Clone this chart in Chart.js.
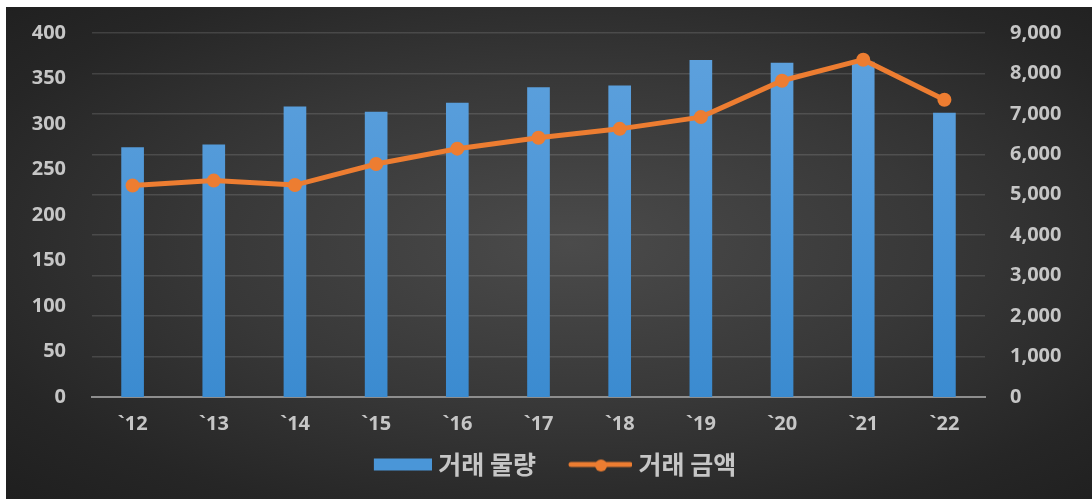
<!DOCTYPE html>
<html lang="ko">
<head>
<meta charset="UTF-8">
<title>거래 물량 / 거래 금액</title>
<script src="https://cdn.jsdelivr.net/npm/chart.js"></script>
<style>
    html, body { margin: 0; padding: 0; background: #fff; }
    .panel {
        position: absolute; left: 6px; top: 7px; width: 1086px; height: 492px;
        background: radial-gradient(ellipse at 52% 48%, #4b4b4b 0%, #383838 45%, #262626 80%, #1f1f1f 100%);
    }
    canvas { display: block; }
</style>
</head>
<body>
<div class="panel"><canvas id="chart" width="1086" height="492"></canvas></div>
<script>
// 연도 / 거래 물량(좌축) / 거래 금액(우축)
const years = ['`12', '`13', '`14', '`15', '`16', '`17', '`18', '`19', '`20', '`21', '`22'];
const volume = [274, 277, 319, 313, 323, 340, 342, 370, 367, 368, 312];
const amount = [5230, 5350, 5240, 5760, 6140, 6410, 6630, 6920, 7820, 8340, 7350];
const leftTicks = [0, 50, 100, 150, 200, 250, 300, 350, 400];
const rightTicks = [0, 1000, 2000, 3000, 4000, 5000, 6000, 7000, 8000, 9000];

const labelColor = '#c6c6c6';
const tickFont = { family: '"Open Sans", sans-serif', size: 20, weight: 'bold' };
const krFont = '"Noto Sans CJK KR", sans-serif';

// 범례 아이콘 (막대 / 선+점)
function legendIcon(kind) {
    const c = document.createElement('canvas');
    c.width = 76; c.height = 18;
    const g = c.getContext('2d');
    if (kind === 'bar') {
        g.fillStyle = '#4a96d8';
        g.fillRect(18, 3, 58, 12);
    } else {
        g.strokeStyle = '#ed7d31';
        g.lineWidth = 5;
        g.lineCap = 'round';
        g.beginPath(); g.moveTo(15, 9); g.lineTo(74, 9); g.stroke();
        g.fillStyle = '#ed7d31';
        g.beginPath(); g.arc(45, 10, 6, 0, Math.PI * 2); g.fill();
    }
    return c;
}

function barGradient(context) {
    const area = context.chart.chartArea;
    if (!area) return '#4a96d8';
    const grad = context.chart.ctx.createLinearGradient(0, area.top, 0, area.bottom);
    grad.addColorStop(0, '#5fa2de');
    grad.addColorStop(1, '#3b8bd0');
    return grad;
}

// 세로축 라벨 여백이 그래프 영역 위아래를 밀어내지 않도록
function fitSide(width) {
    return (axis) => {
        axis.width = width;
        axis.paddingTop = 12;
        axis.paddingBottom = 12;
    };
}

new Chart(document.getElementById('chart'), {
    data: {
        labels: years,
        datasets: [
            {
                type: 'line',
                label: '거래 금액',
                data: amount,
                yAxisID: 'y1',
                borderColor: '#ed7d31',
                backgroundColor: '#ed7d31',
                borderWidth: 5,
                pointRadius: 7,
                pointHoverRadius: 7,
                pointBackgroundColor: '#ed7d31',
                pointBorderWidth: 0,
                pointStyle: 'circle',
                tension: 0,
                order: 0
            },
            {
                type: 'bar',
                label: '거래 물량',
                data: volume,
                yAxisID: 'y',
                backgroundColor: barGradient,
                barThickness: 22,
                order: 1
            }
        ]
    },
    options: {
        responsive: false,
        animation: false,
        layout: { padding: { left: 0, right: 0, top: 26, bottom: 12 } },
        plugins: {
            tooltip: { enabled: false },
            legend: {
                position: 'bottom',
                reverse: true,
                labels: {
                    color: labelColor,
                    font: { family: krFont, size: 25, weight: 'bold' },
                    usePointStyle: true,
                    pointStyleWidth: 64,
                    padding: 1,
                    // 첫 항목 뒤 간격은 전각 공백으로 띄움
                    generateLabels: (chart) => chart.data.datasets.map((ds, i) => ({
                        text: ds.type === 'bar' ? ds.label + '\u2003' : ds.label,
                        fontColor: labelColor,
                        pointStyle: legendIcon(ds.type === 'bar' ? 'bar' : 'line'),
                        datasetIndex: i,
                        hidden: false,
                        lineWidth: 0,
                        strokeStyle: 'rgba(0,0,0,0)',
                        fillStyle: 'rgba(0,0,0,0)'
                    }))
                }
            }
        },
        scales: {
            x: {
                grid: { display: false, drawTicks: false },
                border: { display: true, color: '#8e8e8e', width: 2 },
                ticks: { color: labelColor, font: tickFont, padding: 15 }
            },
            y: {
                position: 'left',
                min: 0, max: 400,
                afterBuildTicks: (axis) => { axis.ticks = leftTicks.map(v => ({ value: v })); },
                afterFit: fitSide(86),
                grid: { display: false, drawTicks: false },
                border: { display: false },
                ticks: { color: labelColor, font: tickFont, padding: 26 }
            },
            y1: {
                position: 'right',
                min: 0, max: 9000,
                afterBuildTicks: (axis) => { axis.ticks = rightTicks.map(v => ({ value: v })); },
                afterFit: fitSide(107),
                grid: { color: 'rgba(255,255,255,0.13)', lineWidth: 1.5, drawTicks: false },
                border: { display: false },
                ticks: {
                    color: labelColor, font: tickFont, padding: 25,
                    callback: (v) => v.toLocaleString('en-US')
                }
            }
        }
    }
});
</script>
</body>
</html>
